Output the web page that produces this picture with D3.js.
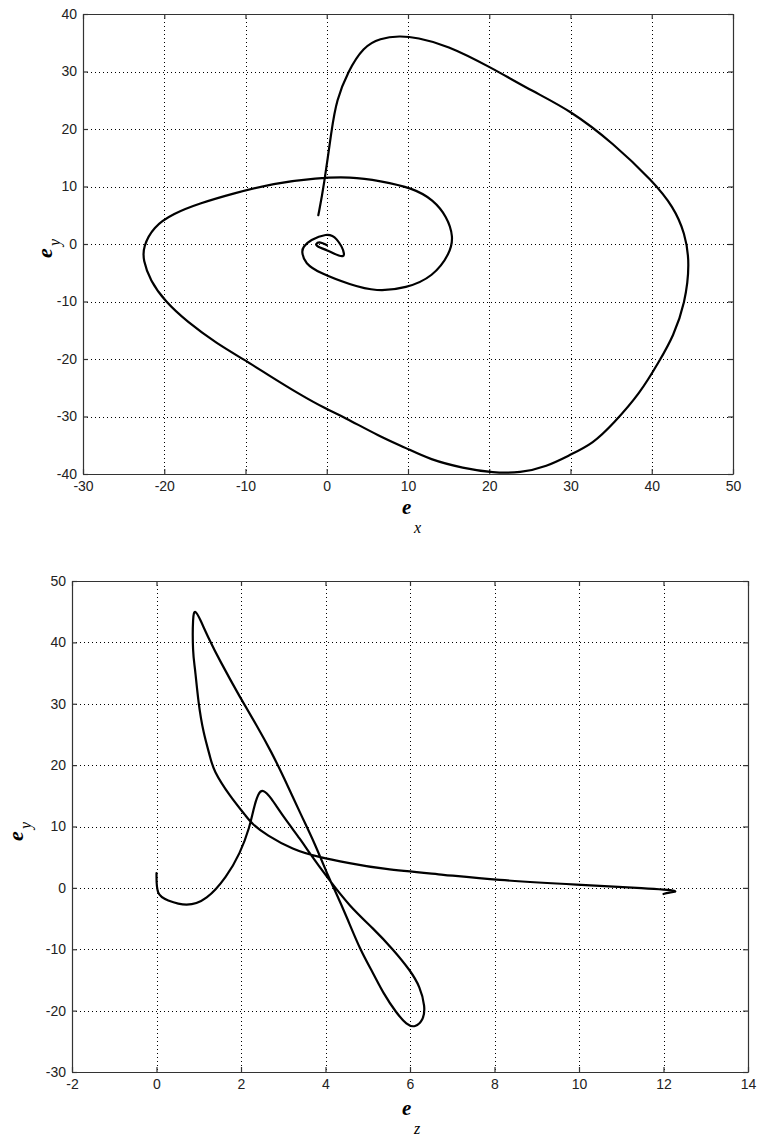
<!DOCTYPE html>
<html>
<head>
<meta charset="utf-8">
<script src="https://cdnjs.cloudflare.com/ajax/libs/d3/7.8.5/d3.min.js"></script>
<style>
  html, body { margin: 0; padding: 0; background: #fff; }
  svg { display: block; }
  .tick text { font-family: "Liberation Sans", Arial, sans-serif; font-size: 14px; fill: #222; }
  .axlabel { font-family: "Liberation Serif", "Times New Roman", serif; font-style: italic; fill: #000; }
</style>
</head>
<body>
<svg id="chart" width="759" height="1141"></svg>
<script>
// ---- Top chart data (e_x vs e_y) ----
const topEx = [0, -0.8, -1.4, -1.2, 0, 1.6, 2.46, 1.2, 0, -2.06, -2.9, -3.1, -2.7, -0.8, 2.9, 6.1, 9.8, 13.1, 15.2, 15.6, 14.8, 13.1, 10.65, 6.55, 2.9, -1.2, -6.6, -11.5, -15.6, -18.9, -21.35, -22.6, -22.6, -21.75, -19.9, -17.2, -13.55, -10.06, -7.4, -3.3, 0, 2, 6.55, 9.8, 12.7, 16.8, 20.5, 23.8, 27.1, 29.9, 32.8, 35.3, 38.55, 41, 42.65, 44.1, 44.7, 44.1, 42.65, 40.2, 35.3, 29.9, 25.4, 20.1, 14.76, 11.07, 9.0, 6.55, 4.5, 2.6, 1.2, 0.6, -0.35, -1.04];
const topEy = [-0.2, 0.4, 0.1, -0.5, -1.0, -2.2, -2.2, 1.3, 1.85, 0.7, -0.5, -1.3, -3.4, -5.1, -7.1, -8.3, -7.7, -5.7, -1.6, 1.3, 4.75, 7.7, 9.7, 11.0, 11.7, 11.5, 10.55, 8.8, 7.1, 5.3, 3.0, -0.5, -2.8, -6.3, -10, -13.5, -17.3, -20.2, -22.6, -26.2, -28.75, -30, -33.5, -35.5, -37.5, -39.0, -39.8, -39.8, -38.7, -36.7, -34.7, -31.2, -26, -20.2, -16.1, -10.3, -3.4, 1.9, 6.5, 10.8, 17.5, 23.3, 26.5, 30.8, 34.6, 35.9, 36.2, 35.8, 34.3, 30, 25, 20, 10, 5];
const topXTicks = [-30, -20, -10, 0, 10, 20, 30, 40, 50];
const topYTicks = [-40, -30, -20, -10, 0, 10, 20, 30, 40];

// ---- Bottom chart data (e_z vs e_y) ----
const botEz = [0, 0, 0.24, 0.71, 1.19, 1.66, 1.98, 2.21, 2.29, 2.41, 2.53, 2.69, 3.0, 3.42, 3.63, 4.03, 4.58, 5.13, 5.61, 6.0, 6.24, 6.36, 6.32, 6.12, 5.92, 5.68, 5.37, 5.13, 4.82, 4.5, 4.22, 4.1, 3.73, 3.44, 3.0, 2.73, 2.37, 1.98, 1.5, 1.23, 1.03, 0.91, 0.857, 0.857, 0.91, 0.99, 1.11, 1.27, 1.34, 1.74, 2.13, 2.25, 2.6, 3.24, 3.79, 4.58, 5.29, 6.87, 7.97, 10.02, 11.6, 12.45, 12.1, 12.0];
const botEy = [2.4, -1.2, -2.0, -3.1, -2.0, 1.8, 5.6, 10.0, 12.7, 15.6, 16.0, 14.9, 11.6, 7.8, 5.6, 1.8, -3.1, -6.6, -10.1, -13.4, -16.1, -19.4, -21.5, -22.8, -22.3, -20.4, -17.2, -13.9, -10.1, -4.7, -0.35, 1.3, 7.5, 11.6, 18.2, 22.0, 26.5, 31.0, 37.0, 40.7, 43.8, 45.4, 44.4, 38.2, 36.0, 30.1, 25.2, 21.4, 19.2, 14.9, 11.6, 10.5, 8.6, 6.2, 5.1, 4.0, 3.1, 2.1, 1.3, 0.47, -0.07, -0.5, -0.8, -1.0];
const botXTicks = [-2, 0, 2, 4, 6, 8, 10, 12, 14];
const botYTicks = [-30, -20, -10, 0, 10, 20, 30, 40, 50];

const svg = d3.select("#chart");
const fmt = d => String(d);

function panel(cfg) {
  const { left, top, width, height, xDomain, yDomain, xTicks, yTicks, xs, ys } = cfg;
  const x = d3.scaleLinear().domain(xDomain).range([0, width]);
  const y = d3.scaleLinear().domain(yDomain).range([height, 0]);
  const g = svg.append("g").attr("transform", `translate(${left},${top})`);

  // grid
  const grid = g.append("g").attr("stroke", "#000").attr("stroke-width", 1)
    .attr("stroke-dasharray", "1,3").attr("shape-rendering", "crispEdges");
  grid.selectAll(".gx").data(xTicks.slice(1, -1)).join("line")
    .attr("x1", d => Math.round(x(d)) + 0.5).attr("x2", d => Math.round(x(d)) + 0.5)
    .attr("y1", 0).attr("y2", height);
  grid.selectAll(".gy").data(yTicks.slice(1, -1)).join("line")
    .attr("y1", d => Math.round(y(d)) + 0.5).attr("y2", d => Math.round(y(d)) + 0.5)
    .attr("x1", 0).attr("x2", width);

  // axes
  const axStyle = sel => {
    sel.attr("font-family", null).attr("font-size", null);
    sel.select(".domain").attr("stroke", "#333").attr("stroke-width", 1.2);
    sel.selectAll(".tick line").attr("stroke", "#333").attr("stroke-width", 1.2);
  };
  g.append("g").attr("transform", `translate(0,${height})`)
    .call(d3.axisBottom(x).tickValues(xTicks).tickSizeInner(-5).tickSizeOuter(0).tickPadding(7).tickFormat(fmt))
    .call(axStyle);
  g.append("g")
    .call(d3.axisTop(x).tickValues(xTicks).tickSizeInner(-5).tickSizeOuter(0).tickFormat(""))
    .call(axStyle);
  g.append("g")
    .call(d3.axisLeft(y).tickValues(yTicks).tickSizeInner(-5).tickSizeOuter(0).tickPadding(6).tickFormat(fmt))
    .call(axStyle);
  g.append("g").attr("transform", `translate(${width},0)`)
    .call(d3.axisRight(y).tickValues(yTicks).tickSizeInner(-5).tickSizeOuter(0).tickFormat(""))
    .call(axStyle);

  // trajectory
  const pts = xs.map((v, i) => [v, ys[i]]);
  const line = d3.line().x(d => x(d[0])).y(d => y(d[1])).curve(d3.curveBasis);
  g.append("path").datum(pts).attr("d", line)
    .attr("fill", "none").attr("stroke", "#000").attr("stroke-width", 2.2)
    .attr("stroke-linejoin", "round").attr("stroke-linecap", "round");
  return g;
}

panel({ left: 83, top: 14, width: 650, height: 460, xDomain: [-30, 50], yDomain: [-40, 40],
        xTicks: topXTicks, yTicks: topYTicks, xs: topEx, ys: topEy });
panel({ left: 72, top: 581, width: 676, height: 491, xDomain: [-2, 14], yDomain: [-30, 50],
        xTicks: botXTicks, yTicks: botYTicks, xs: botEz, ys: botEy });

// axis labels
function xLabel(cx, baseline, subBaseline, sub) {
  svg.append("text").attr("class", "axlabel").attr("x", cx - 6).attr("y", baseline)
    .attr("font-size", 21).attr("font-weight", "bold").text("e");
  svg.append("text").attr("class", "axlabel").attr("x", cx + 6).attr("y", subBaseline)
    .attr("font-size", 16).text(sub);
}
function yLabel(cx, cy, sub) {
  const g = svg.append("g").attr("transform", `translate(${cx},${cy}) rotate(-90)`);
  g.append("text").attr("class", "axlabel").attr("x", -6).attr("y", 0)
    .attr("font-size", 22).attr("font-weight", "bold").text("e");
  g.append("text").attr("class", "axlabel").attr("x", 6).attr("y", 8)
    .attr("font-size", 16).text(sub);
}
xLabel(408, 514, 533, "x");
xLabel(408, 1115, 1134, "z");
yLabel(52, 252, "y");
yLabel(23, 835, "y");
</script>
</body>
</html>
